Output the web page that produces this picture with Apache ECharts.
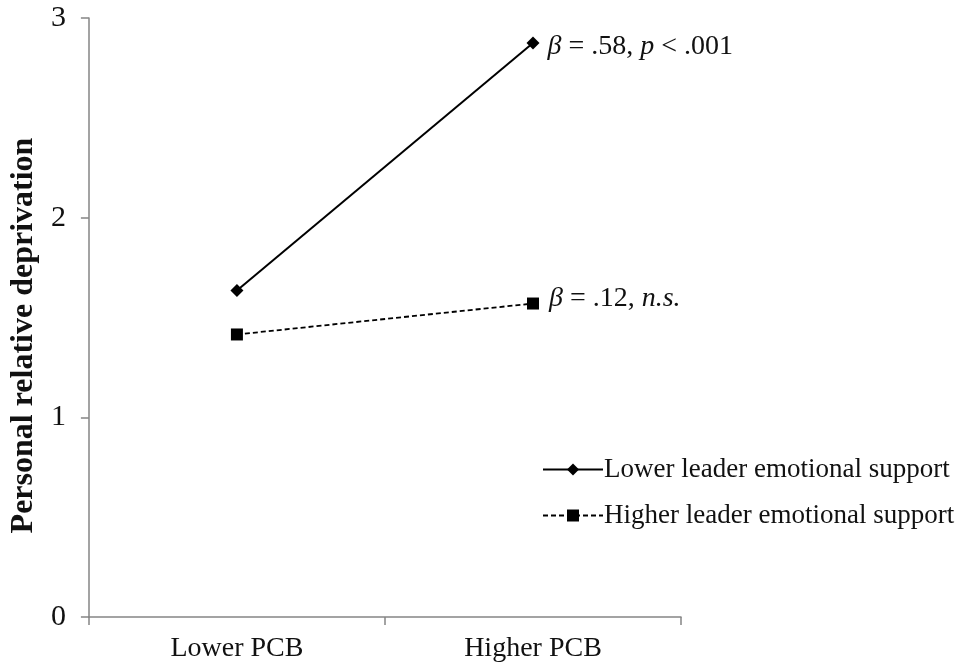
<!DOCTYPE html>
<html>
<head>
<meta charset="utf-8">
<script src="https://cdn.jsdelivr.net/npm/echarts@6/dist/echarts.min.js"></script>
<style>
html,body{margin:0;padding:0;background:#fff;}
#main{width:963px;height:667px;}
</style>
</head>
<body>
<div id="main"></div>
<script>
var categories = ['Lower PCB', 'Higher PCB'];
var lowerSupport = [1.635, 2.875];
var higherSupport = [1.415, 1.57];
var yTicks = [0, 1, 2, 3];
var seriesNames = ['Lower leader emotional support', 'Higher leader emotional support'];

var FONT = '"Liberation Serif", "Times New Roman", serif';
var chart = echarts.init(document.getElementById('main'));
var option = {
  backgroundColor: '#fff',
  animation: false,
  textStyle: { fontFamily: FONT, color: '#111' },
  grid: { left: 83, right: 282, top: 18, bottom: 50, containLabel: false },
  legend: {
    orient: 'vertical',
    left: 537,
    top: 451,
    itemWidth: 60,
    itemHeight: 15,
    itemGap: 19,
    data: seriesNames,
    textStyle: { fontFamily: FONT, fontSize: 27, color: '#111', padding: [0, 0, 0, -4] }
  },
  xAxis: {
    type: 'category',
    data: categories,
    boundaryGap: true,
    axisLine: { lineStyle: { color: '#858585', width: 1.5 } },
    axisTick: { show: true, length: 8, lineStyle: { color: '#858585', width: 1.5 } },
    axisLabel: { fontFamily: FONT, fontSize: 28, color: '#111', margin: 18 }
  },
  yAxis: {
    type: 'value',
    min: 0,
    max: 3,
    interval: 1,
    name: 'Personal relative deprivation',
    nameLocation: 'middle',
    nameGap: 47,
    nameTextStyle: { fontFamily: FONT, fontSize: 32, fontWeight: 'bold', color: '#111', padding: [0, 0, 0, -36] },
    axisLine: { show: true, lineStyle: { color: '#858585', width: 1.5 } },
    axisTick: { show: true, length: 8, lineStyle: { color: '#858585', width: 1.5 } },
    splitLine: { show: false },
    axisLabel: {
      fontFamily: FONT, fontSize: 30, color: '#111', margin: 23,
      formatter: function (v) { return yTicks.indexOf(v) >= 0 ? String(v) : ''; }
    }
  },
  series: [
    {
      name: seriesNames[0],
      type: 'line',
      data: lowerSupport,
      symbol: 'diamond',
      symbolSize: 13,
      itemStyle: { color: '#000' },
      lineStyle: { color: '#000', width: 2, type: 'solid' },
      label: {
        show: true,
        position: 'right',
        distance: 8,
        offset: [0, 4],
        fontFamily: FONT,
        fontSize: 28,
        color: '#111',
        formatter: function (p) {
          return p.dataIndex === 1 ? '{i|β} = .58, {i|p} < .001' : '';
        },
        rich: { i: { fontStyle: 'italic', fontFamily: FONT, fontSize: 28, color: '#111' } }
      }
    },
    {
      name: seriesNames[1],
      type: 'line',
      data: higherSupport,
      symbol: 'rect',
      symbolSize: 12,
      itemStyle: { color: '#000' },
      lineStyle: { color: '#000', width: 1.8, type: [5, 3] },
      label: {
        show: true,
        position: 'right',
        distance: 10,
        offset: [0, -5],
        fontFamily: FONT,
        fontSize: 28,
        color: '#111',
        formatter: function (p) {
          return p.dataIndex === 1 ? '{i|β} = .12, {i|n.s.}' : '';
        },
        rich: { i: { fontStyle: 'italic', fontFamily: FONT, fontSize: 28, color: '#111' } }
      }
    }
  ]
};
chart.setOption(option);
</script>
</body>
</html>
